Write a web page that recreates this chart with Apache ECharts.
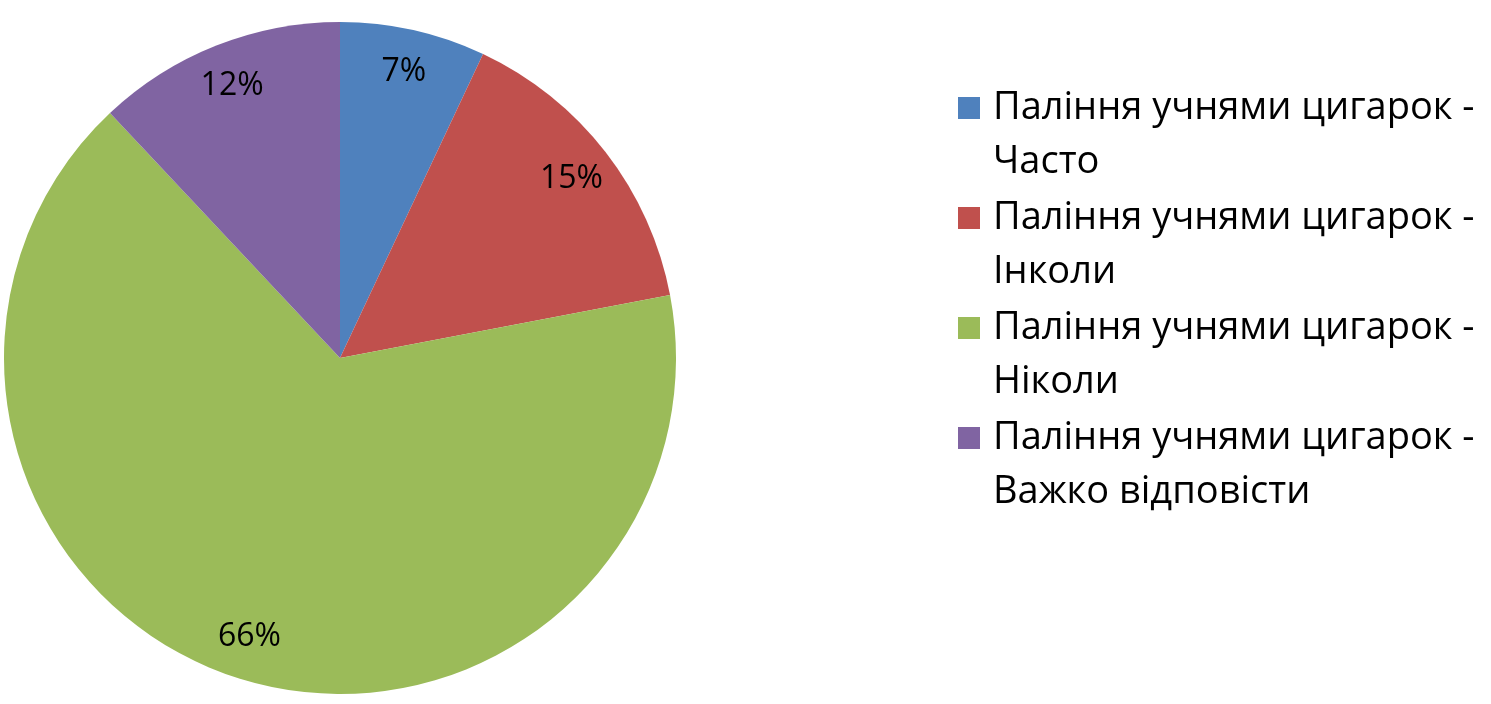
<!DOCTYPE html>
<html>
<head>
<meta charset="utf-8">
<title>Паління учнями цигарок</title>
<script src="https://cdn.jsdelivr.net/npm/echarts@6/dist/echarts.min.js"></script>
<style>
  html, body { margin: 0; padding: 0; background: #fff; }
  #chart { width: 1491px; height: 704px; }
</style>
</head>
<body>
<div id="chart"></div>
<script>
// дані
const categories = [
  'Паління учнями цигарок -\nЧасто',
  'Паління учнями цигарок -\nІнколи',
  'Паління учнями цигарок -\nНіколи',
  'Паління учнями цигарок -\nВажко відповісти'
]
const values = [7, 15, 66, 12]
const colors = ['#4F81BD', '#C0504D', '#9BBB59', '#8064A2']

const fontFamily = '"Open Sans", "Noto Sans", sans-serif'

const chart = echarts.init(document.getElementById('chart'))

const pieData = categories.map((name, i) => ({
  name: name,
  value: values[i],
  itemStyle: { color: colors[i] }
}))

const option = {
  backgroundColor: '#fff',
  animation: false,
  legend: {
    orient: 'vertical',
    left: 958,
    top: 27,
    padding: 0,
    itemWidth: 22,
    itemHeight: 22,
    itemGap: -52,
    icon: 'rect',
    data: categories,
    // порожній перший рядок, щоб значок стояв навпроти першого рядка тексту
    formatter: (name) => '\n' + name,
    textStyle: {
      fontFamily: fontFamily,
      fontSize: 38,
      color: '#000',
      lineHeight: 54,
      padding: [0, 0, 0, 8]
    }
  },
  series: [
    {
      // основний пиріг
      type: 'pie',
      center: [340, 358],
      radius: [0, 336],
      startAngle: 90,
      clockwise: true,
      silent: true,
      label: { show: false },
      labelLine: { show: false },
      data: pieData
    },
    {
      // прозоре кільце лише для підписів
      type: 'pie',
      center: [340, 358],
      radius: [244, 336],
      startAngle: 90,
      clockwise: true,
      silent: true,
      legendHoverLink: false,
      itemStyle: { color: 'transparent' },
      label: {
        show: true,
        position: 'inside',
        formatter: '{c}%',
        fontFamily: fontFamily,
        fontSize: 32,
        color: '#000'
      },
      labelLine: { show: false },
      data: categories.map((name, i) => ({ name: name, value: values[i] }))
    }
  ]
}

chart.setOption(option)
</script>
</body>
</html>
